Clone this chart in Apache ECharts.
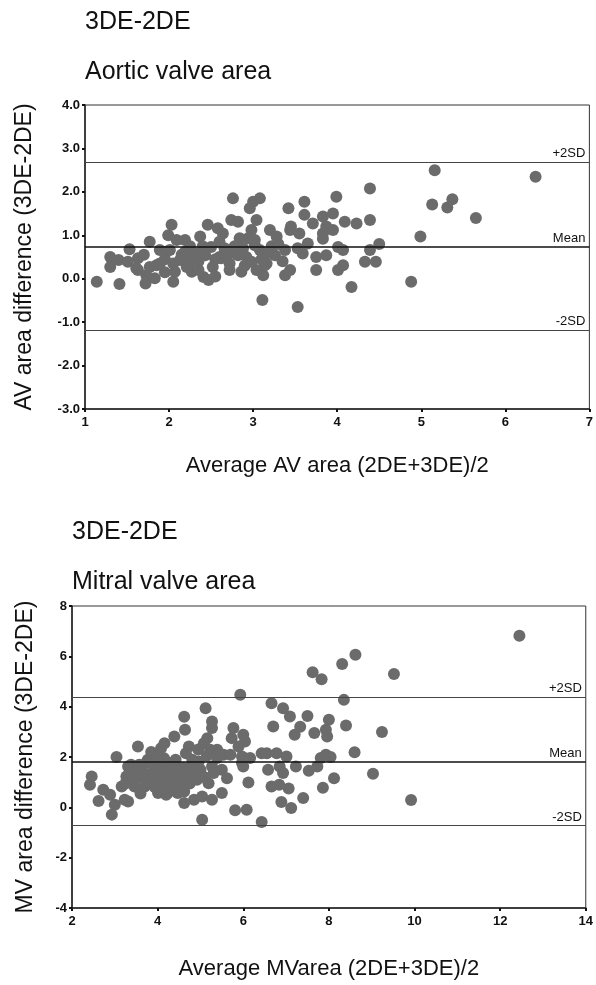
<!DOCTYPE html>
<html lang="en">
<head>
    <meta charset="UTF-8">
    <title>3DE-2DE</title>
    <script src="https://cdn.jsdelivr.net/npm/echarts/dist/echarts.min.js"></script>
    <style>
        body { margin: 0; background: #fff; }
    </style>
</head>
<body>
<div id="main" style="width: 596px;height:985px;"></div>
<script type="text/javascript">
    // [average, difference]
    var aorticPoints = [
        [1.14,-0.07],[1.41,-0.12],[1.30,0.50],[1.30,0.27],[1.40,0.43],[1.53,0.68],[1.63,0.47],[1.63,0.20],
        [1.72,-0.11],[1.77,0.85],[1.83,0.01],[1.77,0.27],[1.89,0.35],[1.89,0.66],[2.03,1.24],[1.99,1.00],
        [2.05,-0.07],[2.07,0.16],[2.01,0.66],[2.09,0.89],[2.19,0.89],[2.13,0.43],[2.21,0.27],[2.23,0.50],
        [2.27,0.16],[2.37,0.97],[2.41,0.04],[2.47,-0.03],[2.33,0.58],[2.46,1.24],[2.50,0.73],[2.52,0.27],
        [2.58,1.16],[2.64,1.04],[2.60,0.50],[2.68,0.66],[2.76,1.85],[2.74,1.35],[2.82,1.31],[2.72,0.35],
        [2.72,0.20],[2.84,0.93],[2.86,0.16],[2.92,0.50],[2.96,1.62],[3.00,1.77],[3.08,1.85],[3.04,1.35],
        [2.98,1.12],[3.02,0.89],[3.08,0.66],[3.04,0.20],[3.12,0.08],[3.11,-0.49],[3.16,0.35],[3.20,1.12],
        [3.28,0.97],[3.26,0.54],[3.38,0.66],[3.42,1.62],[3.45,1.20],[3.44,1.12],[3.38,0.08],[3.44,0.20],
        [3.53,-0.65],[3.55,1.04],[3.61,1.77],[3.61,1.47],[3.59,0.58],[3.65,0.81],[3.75,0.20],[3.75,0.50],
        [3.71,1.27],[3.83,1.43],[3.83,1.04],
        [1.51,0.39],[1.61,0.24],[1.73,0.08],[1.85,0.31],[1.97,0.62],[2.19,0.62],[2.23,0.31],[2.31,0.54],
        [2.43,0.54],[2.66,0.70],[2.62,0.47],[2.82,0.54],[2.94,0.93],[3.02,0.77],[2.98,0.39],[3.16,0.58],
        [3.14,0.31],
        [3.87,1.20],[3.87,0.54],[3.95,1.50],[3.99,1.89],[3.95,1.12],[4.01,0.73],[4.07,0.66],[4.01,0.20],
        [4.07,0.31],[4.09,1.31],[4.23,1.27],[4.17,-0.19],[4.33,0.39],[4.39,2.08],[4.39,1.35],[4.39,0.66],
        [4.46,0.39],[4.50,0.80],[4.88,-0.07],[4.99,0.97],[5.13,1.71],[5.16,2.50],[5.31,1.64],[5.37,1.83],
        [5.65,1.40],[6.36,2.35],[3.83,0.92],[3.53,0.70],
        // overlapping dots inside the dense cluster
        [1.95,0.45],[2.05,0.35],[2.15,0.55],[2.25,0.75],[2.35,0.40],[2.40,0.75],[2.55,0.45],[2.60,0.85],
        [2.70,0.55],[2.78,0.75],[2.88,0.70],[2.90,0.30],[3.10,0.45],[3.22,0.75],[3.30,0.80],[3.35,0.40],
        [2.55,0.05],[1.70,0.55],[1.95,0.15],[2.35,0.20]
    ];
    var mitralPoints = [
        [2.46,1.23],[2.42,0.90],[2.73,0.70],[2.89,0.50],[2.62,0.25],[2.93,-0.29],[3.00,0.10],[3.16,0.83],
        [3.23,0.30],[3.31,0.23],[3.04,2.00],[3.31,1.62],[3.27,1.23],[3.54,1.36],[3.54,2.42],[3.62,1.56],
        [3.38,1.69],[3.34,1.36],[3.46,0.83],[3.70,0.83],
        [3.77,1.89],[3.97,1.76],[3.97,2.02],[3.77,1.29],[3.89,1.42],[3.85,0.96],[4.04,1.16],[4.24,1.10],
        [4.35,0.83],[4.01,0.57],[4.20,0.50],[4.47,0.57],[4.55,1.10],[4.59,1.56],[4.12,1.49],[4.31,1.42],
        [4.43,1.29],[4.08,2.35],[4.16,2.55],[4.39,2.81],[4.62,3.60],[4.64,3.08],
        [4.73,2.42],[4.66,2.15],[4.77,1.62],[4.69,1.23],[4.62,0.63],[4.96,1.82],[5.00,1.49],[4.92,1.10],
        [4.81,1.89],[4.42,1.89],[4.27,1.76],[4.04,2.02],[3.73,1.76],[3.57,1.69],[4.07,0.83],[4.27,0.90],
        [4.46,0.96],[4.58,0.70],[4.23,0.57],[4.42,0.63],[4.50,1.42],[4.69,1.42],[4.89,1.23],
        [4.85,0.30],[5.04,0.43],[5.27,0.30],[5.50,0.57],[4.62,0.17],[3.94,0.80],
        [5.12,3.94],[5.27,3.41],[5.27,3.15],[5.16,2.75],[5.08,2.55],[5.77,3.15],[6.00,2.88],[5.73,2.75],
        [6.04,2.62],[5.89,2.42],[5.97,1.76],[5.23,2.29],[5.39,2.29],[5.54,2.09],[5.70,2.09],[5.39,1.96],
        [5.27,1.62],[5.50,1.49],[5.62,1.16],[5.19,0.96],[5.31,1.36],[5.97,2.02],[6.16,1.96],[6.00,1.62],
        [6.12,0.99],[5.93,4.47],[5.04,-0.49],[5.81,-0.12],[6.08,-0.10],
        [6.43,2.15],[6.55,2.15],[6.78,2.15],[7.01,2.02],[6.58,1.49],[6.85,1.62],[6.93,1.36],[6.84,0.90],
        [7.06,0.75],[6.66,0.83],[7.23,1.62],[6.89,0.21],[7.12,-0.03],[6.43,-0.58],[7.40,0.37],[7.86,0.78],
        [8.12,1.16],
        [6.66,4.14],[6.93,3.94],[7.09,3.61],[6.70,3.21],[7.20,2.88],[7.33,3.20],[7.50,3.63],[7.66,2.95],
        [7.93,3.08],[7.96,2.81],[8.00,3.48],[8.40,3.25],
        [7.93,2.09],[8.04,2.00],[7.81,1.96],[7.73,1.62],[7.53,1.45],[8.60,2.19],[9.24,2.99],[9.03,1.33],
        [9.92,0.29],[12.45,6.82],[8.62,6.06],[8.31,5.70],[7.62,5.37],[7.83,5.09],[9.52,5.30],[8.35,4.27],
        // overlapping dots inside the dense cluster
        [3.45,1.05],[3.65,1.15],[3.95,1.25],[4.15,0.75],[4.35,1.60],[4.55,0.85],[4.75,0.95],[4.15,1.95],
        [3.60,0.55],[3.25,0.95],[4.85,1.60],[5.10,1.20],[5.15,2.05],[4.95,2.30],[3.85,2.20]
    ];
    // +2SD, mean, -2SD
    var limitNames = ['+2SD', 'Mean', '-2SD'];
    var aorticLimits = [2.69, 0.74, -1.18];
    var mitralLimits = [4.38, 1.80, -0.73];

    var titles = ['3DE-2DE', 'Aortic valve area', '3DE-2DE', 'Mitral valve area'];
    var xNames = ['Average AV area (2DE+3DE)/2', 'Average MVarea (2DE+3DE)/2'];
    var yNames = ['AV area difference (3DE-2DE)', 'MV area difference (3DE-2DE)'];

    var font = 'Liberation Sans, Arial, sans-serif';

    function limitLines(values) {
        return values.map(function (v, i) {
            return {
                yAxis: v,
                name: limitNames[i],
                lineStyle: {color: i === 1 ? '#111' : '#444', width: i === 1 ? 1.5 : 1.2, type: 'solid'}
            };
        });
    }

    function axisCommon() {
        return {
            axisLine: {show: true, onZero: false, lineStyle: {color: '#222', width: 1.5}},
            axisTick: {show: true, length: 3, lineStyle: {color: '#111', width: 2}},
            splitLine: {show: false},
            axisLabel: {color: '#111', fontSize: 13, fontWeight: 'bold', fontFamily: font, margin: 5},
            nameLocation: 'middle',
            nameTextStyle: {color: '#111', fontSize: 23, fontFamily: font}
        };
    }

    var myChart = echarts.init(document.getElementById('main'));

    var x0 = axisCommon(), x1 = axisCommon(), y0 = axisCommon(), y1 = axisCommon();
    Object.assign(x0, {type: 'value', gridIndex: 0, min: 1, max: 7, interval: 1, name: xNames[0], nameGap: 46});
    Object.assign(x1, {type: 'value', gridIndex: 1, min: 2, max: 14, interval: 2, name: xNames[1], nameGap: 50});
    Object.assign(y0, {type: 'value', gridIndex: 0, min: -3, max: 4, interval: 1, name: yNames[0], nameGap: 49});
    Object.assign(y1, {type: 'value', gridIndex: 1, min: -4, max: 8, interval: 2, name: yNames[1], nameGap: 35});
    // x titles a bit smaller than the y titles
    x0.nameTextStyle = Object.assign({}, x0.nameTextStyle, {fontSize: 22});
    x1.nameTextStyle = Object.assign({}, x1.nameTextStyle, {fontSize: 22});
    x0.axisLabel = Object.assign({}, x0.axisLabel, {margin: 7});
    x1.axisLabel = Object.assign({}, x1.axisLabel, {margin: 7});
    y0.axisLabel = Object.assign({}, y0.axisLabel, {formatter: function (v) { return v.toFixed(1); }});

    var titleStyle = {color: '#111', fontSize: 25, fontWeight: 'normal', fontFamily: font};

    myChart.setOption({
        animation: false,
        title: [
            {text: titles[0], left: 85, top: 10, padding: 0, textStyle: titleStyle},
            {text: titles[1], left: 85, top: 60, padding: 0, textStyle: titleStyle},
            {text: titles[2], left: 72, top: 520, padding: 0, textStyle: titleStyle},
            {text: titles[3], left: 72, top: 570, padding: 0, textStyle: titleStyle}
        ],
        grid: [
            {left: 85, top: 105, width: 505, height: 304, show: true, borderColor: '#333', borderWidth: 1},
            {left: 72, top: 606, width: 518, height: 302, show: true, borderColor: '#333', borderWidth: 1}
        ],
        xAxis: [x0, x1],
        yAxis: [y0, y1],
        series: [
            {
                type: 'scatter', xAxisIndex: 0, yAxisIndex: 0,
                data: aorticPoints, symbolSize: 12,
                itemStyle: {color: '#6b6b6b', opacity: 1},
                markLine: {
                    silent: true, symbol: 'none',
                    label: {position: 'insideEndTop', formatter: '{b}', color: '#111', fontSize: 13, fontFamily: font, distance: [4, 2]},
                    data: limitLines(aorticLimits)
                }
            },
            {
                type: 'scatter', xAxisIndex: 1, yAxisIndex: 1,
                data: mitralPoints, symbolSize: 12,
                itemStyle: {color: '#6b6b6b', opacity: 1},
                markLine: {
                    silent: true, symbol: 'none',
                    label: {position: 'insideEndTop', formatter: '{b}', color: '#111', fontSize: 13, fontFamily: font, distance: [4, 2]},
                    data: limitLines(mitralLimits)
                }
            }
        ]
    });
</script>
</body>
</html>
